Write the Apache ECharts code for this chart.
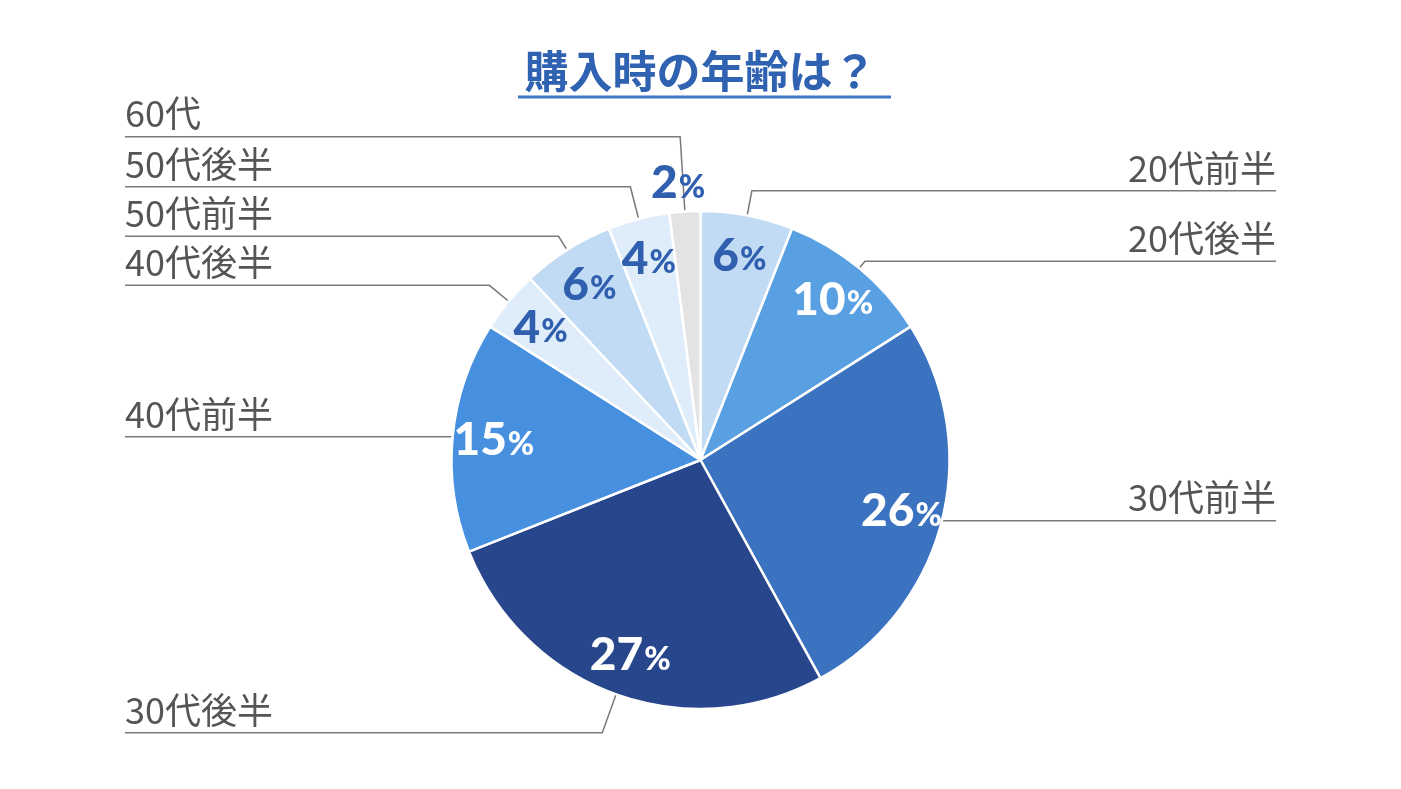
<!DOCTYPE html>
<html>
<head>
<meta charset="utf-8">
<script src="https://cdn.jsdelivr.net/npm/echarts@6/dist/echarts.min.js"></script>
<style>
html,body{margin:0;padding:0;background:#fff;}
#chart{width:1401px;height:789px;}
</style>
</head>
<body>
<div id="chart"></div>
<script>
const titleText = '購入時の年齢は？';
const categories = ['20代前半','20代後半','30代前半','30代後半','40代前半','40代後半','50代前半','50代後半','60代'];
const values = [6, 10, 26, 27, 15, 4, 6, 4, 2];

// styling (kept separate from data)
const sliceColors = ['#c2dbf4','#58a0e2','#3b73c0','#27468b','#4790e0','#dfecf9','#c2dbf4','#dfecf9','#e3e3e3'];
const pctColors = ['#2f5fae','#ffffff','#ffffff','#ffffff','#ffffff','#2f5fae','#2f5fae','#2f5fae','#2f5fae'];
const leaderLengths = [34, 18, 4, 50, 6, 34, 25, 42, 84];

const chart = echarts.init(document.getElementById('chart'));
const W = 1401;
const center = ['50%', 460];

const baseData = categories.map((c, i) => ({ name: c, value: values[i], itemStyle: { color: sliceColors[i] } }));
const pctData = categories.map((c, i) => {
  const d = { name: c, value: values[i], label: { color: pctColors[i] } };
  if (c === '60代') {
    d.label.position = 'outside';
    d.labelLine = { show: false, length: 28, length2: 0 };
  }
  return d;
});
const nameData = categories.map((c, i) => ({ name: c, value: values[i], labelLine: { length: leaderLengths[i] } }));

chart.setOption({
  backgroundColor: '#ffffff',
  animation: false,
  title: {
    text: titleText,
    left: 'center',
    top: 44,
    textStyle: { fontFamily: 'Noto Sans CJK JP', fontWeight: 'bold', fontSize: 44, color: '#3062b2' }
  },
  graphic: [{
    type: 'line',
    shape: { x1: 518, y1: 97, x2: 891, y2: 97 },
    style: { stroke: '#3f78c8', lineWidth: 3 }
  }],
  series: [
    {
      type: 'pie',
      silent: true,
      center: center,
      radius: 249,
      startAngle: 90,
      data: baseData,
      itemStyle: { borderColor: '#ffffff', borderWidth: 2.5 },
      label: { show: false },
      labelLine: { show: false }
    },
    {
      type: 'pie',
      silent: true,
      center: center,
      radius: [160, 249],
      startAngle: 90,
      data: pctData,
      itemStyle: { color: 'rgba(0,0,0,0)' },
      label: {
        show: true,
        position: 'inside',
        formatter: '{n|{c}}{p|%}',
        rich: {
          n: { fontFamily: 'Lato', fontWeight: 900, fontSize: 46 },
          p: { fontFamily: 'Lato', fontWeight: 900, fontSize: 32, padding: [8, 0, 0, 1] }
        }
      },
      labelLine: { show: false },
      labelLayout: function (p) {
        if (categories[p.dataIndex] === '60代') return { align: 'center' };
        return {};
      }
    },
    {
      type: 'pie',
      silent: true,
      center: center,
      radius: 240,
      startAngle: 90,
      data: nameData,
      itemStyle: { color: 'rgba(0,0,0,0)' },
      label: {
        show: true,
        position: 'outside',
        alignTo: 'edge',
        edgeDistance: 125,
        formatter: '{b}',
        fontFamily: 'Noto Sans CJK JP',
        fontSize: 36,
        color: '#555555',
        lineHeight: 44,
        distanceToLabelLine: 0
      },
      labelLine: {
        show: true,
        length: 30,
        length2: 0,
        lineStyle: { color: '#7a7a7a', width: 1.5 }
      },
      labelLayout: function (p) {
        const r = p.labelRect;
        const isLeft = r.x < W / 2;
        const pts = p.labelLinePoints;
        pts[2][0] = isLeft ? r.x : r.x + r.width;
        return { labelLinePoints: pts, y: r.y + r.height / 2 - 23 };
      }
    }
  ]
});
</script>
</body>
</html>
